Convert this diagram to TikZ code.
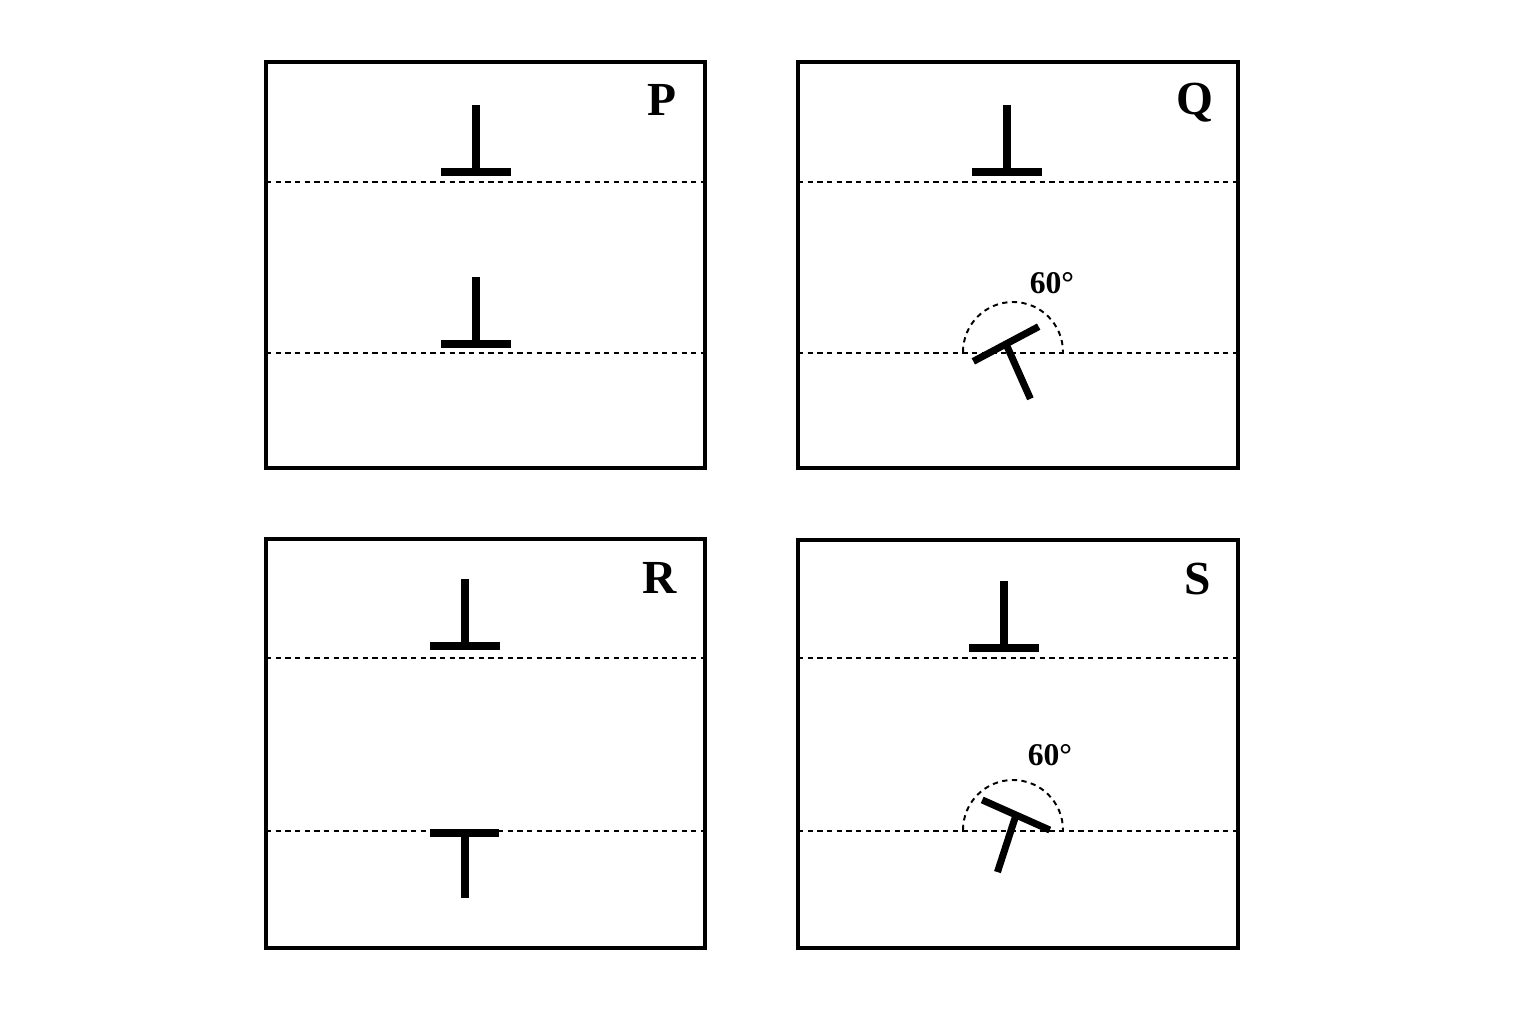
\documentclass[tikz,border=0pt]{standalone}
\usepackage{fontspec}
\setmainfont{Liberation Serif}
\begin{document}
\begin{tikzpicture}[x={(0.02cm,0)}, y={(0,-0.02cm)},
  panel/.style={line width=1.9pt},
  plane/.style={line width=1.1pt, dash pattern=on 3pt off 2.5pt},
  tbar/.style={line width=4pt},
  label/.style={font=\bfseries\fontsize{27}{27}\selectfont},
  angle/.style={font=\bfseries\fontsize{18}{18}\selectfont}]
  \useasboundingbox (0,0) rectangle (1536,1024);
  % panels
  \draw[panel] (266,62) rectangle (705,468);
  \draw[panel] (798,62) rectangle (1238,468);
  \draw[panel] (266,539) rectangle (705,948);
  \draw[panel] (798,540) rectangle (1238,948);
  % planes
  \foreach \y in {182,353,658,831} {
    \draw[plane] (266,\y) -- (705,\y);
    \draw[plane] (798,\y) -- (1238,\y);
  }
  % upright dislocations
  \foreach \x/\y in {476/172, 476/344, 1007/172, 465/646, 1004/648} {
    \draw[tbar] (\x-35,\y) -- (\x+35,\y);
    \draw[tbar] (\x,\y) -- (\x,\y-67);
  }
  % inverted dislocation
  \draw[tbar] (430,833) -- (499,833);
  \draw[tbar] (465,833) -- (465,898);
  % tilted dislocations
  \coordinate (q) at (1006,344);
  \draw[tbar] (q) -- ++(-28:37) (q) -- ++(152:37);
  \draw[tbar] (q) -- ++(66:60);
  \coordinate (s) at (1016,815);
  \draw[tbar] (s) -- ++(24:37) (s) -- ++(204:37);
  \draw[tbar] (s) -- ++(108:60);
  % angle arcs
  \draw[plane] (963,352) arc[start angle=180, end angle=360, radius=50];
  \draw[plane] (963,830) arc[start angle=180, end angle=360, radius=50];
  \node[angle] (aq) at (1052,283) {60°};
  \node[angle] (as) at (1050,755) {60°};
  % panel labels
  \node[label] (lp) at (662,100) {P};
  \node[label] (lq) at (1195,103) {Q};
  \node[label] (lr) at (660,578) {R};
  \node[label] (ls) at (1198,579) {S};
\end{tikzpicture}
\end{document}
